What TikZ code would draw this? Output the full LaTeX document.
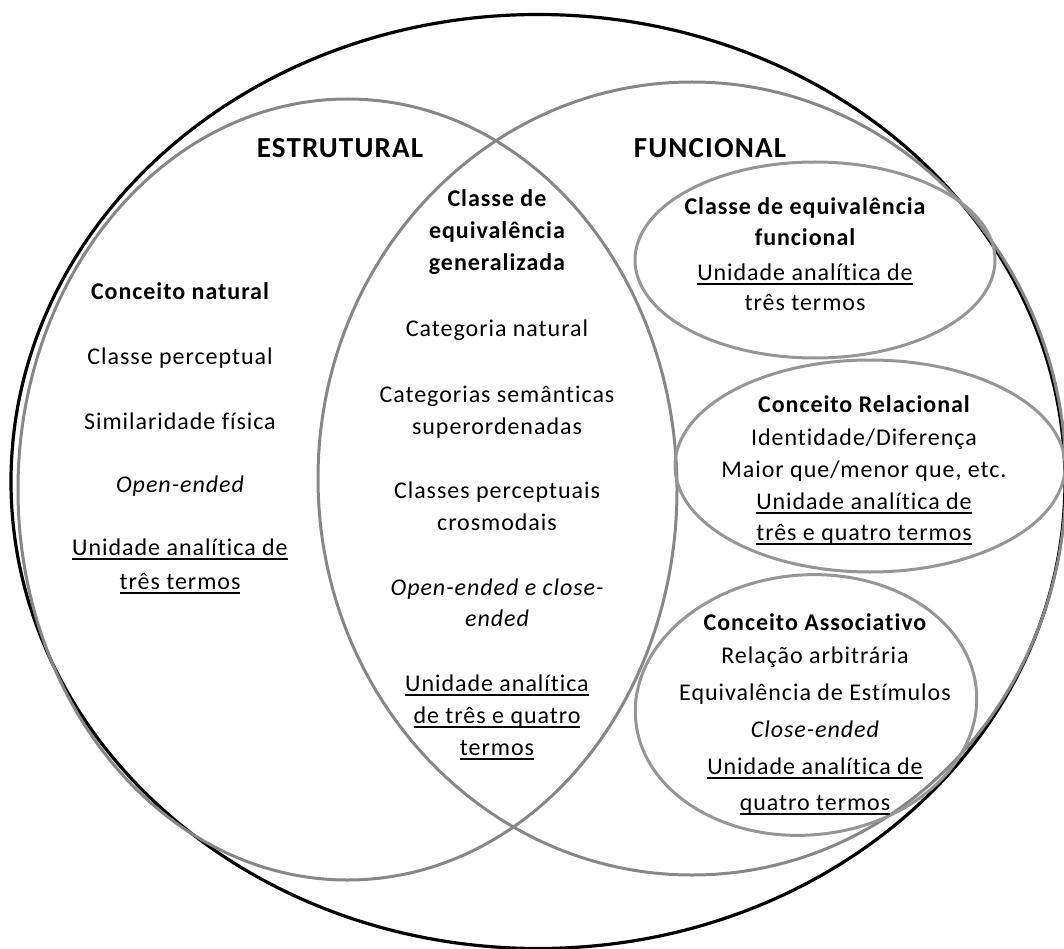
\documentclass[tikz,border=0pt]{standalone}
\usepackage{fontspec}
\setmainfont{Carlito}[LetterSpace=4,Ligatures=NoCommon]
\usetikzlibrary{shapes.geometric}
\definecolor{bigring}{RGB}{135,135,135}
\definecolor{smallring}{RGB}{150,150,150}
\newcommand{\myul}[1]{\setbox0\hbox{#1}\rlap{\rule[-4.5pt]{\wd0}{1.5pt}}\box0}
\begin{document}
\begin{tikzpicture}[x=1pt,y=-1pt,
  ring/.style={ellipse, draw, inner sep=0pt, outer sep=0pt},
  bigr/.style={ring, draw=bigring, line width=3pt},
  smallr/.style={ring, draw=smallring, line width=3pt},
  txt/.style={anchor=base, inner sep=0pt, font=\fontsize{24}{28}\selectfont},
  txtb/.style={txt, font=\fontsize{24}{28}\selectfont\bfseries},
  txti/.style={txt, font=\fontsize{24}{28}\selectfont\itshape},
  title/.style={anchor=base, inner sep=0pt, font=\fontsize{29}{33}\selectfont\bfseries}]
\useasboundingbox (0,0) rectangle (1064,949);
\clip (0,0) rectangle (1064,949);
% rings
\node[ring, draw=black, line width=3.2pt, minimum width=1054pt, minimum height=934pt] (outer) at (538,481.5) {};
\node[bigr, minimum width=659pt, minimum height=781pt] (estr) at (347.5,489.5) {};
\node[bigr, minimum width=748pt, minimum height=793pt] (func) at (692,478.5) {};
\node[smallr, minimum width=360pt, minimum height=196pt] (cef) at (815,260) {};
\node[smallr, minimum width=390pt, minimum height=212pt] (crel) at (870,466) {};
\node[smallr, minimum width=342pt, minimum height=260pt, rotate=5] (cass) at (806,705) {};
% titles
\node[title] (tE) at (340,158) {ESTRUTURAL};
\node[title] (tF) at (710,158) {FUNCIONAL};
% left column
\node[txtb] (l1) at (180,299) {Conceito natural};
\node[txt]  (l2) at (180,364) {Classe perceptual};
\node[txt]  (l3) at (180,429) {Similaridade física};
\node[txti] (l4) at (180,492) {Open-ended};
\node[txt]  (l5) at (180,555) {\myul{Unidade analítica de}};
\node[txt]  (l6) at (180,589) {\myul{três termos}};
% middle column
\node[txtb] (m1) at (497,207) {Classe de};
\node[txtb] (m2) at (497,239) {equivalência};
\node[txtb] (m3) at (497,271) {generalizada};
\node[txt]  (m4) at (497,336) {Categoria natural};
\node[txt]  (m5) at (497,402) {Categorias semânticas};
\node[txt]  (m6) at (497,434) {superordenadas};
\node[txt]  (m7) at (497,498) {Classes perceptuais};
\node[txt]  (m8) at (497,530) {crosmodais};
\node[txti] (m9) at (497,595) {Open-ended e close-};
\node[txti] (m10) at (497,626) {ended};
\node[txt]  (m11) at (497,691) {\myul{Unidade analítica}};
\node[txt]  (m12) at (497,723) {\myul{de três e quatro}};
\node[txt]  (m13) at (497,755) {\myul{termos}};
% right top
\node[txtb] (a1) at (805,215) {Classe de equivalência};
\node[txtb] (a2) at (805,246) {funcional};
\node[txt]  (a3) at (805,280) {\myul{Unidade analítica de}};
\node[txt]  (a4) at (805,310) {três termos};
% right middle
\node[txtb] (r1) at (864,412) {Conceito Relacional};
\node[txt]  (r2) at (864,445) {Identidade/Diferença};
\node[txt]  (r3) at (864,477) {Maior que/menor que, etc.};
\node[txt]  (r4) at (864,509) {\myul{Unidade analítica de}};
\node[txt]  (r5) at (864,540) {\myul{três e quatro termos}};
% right bottom
\node[txtb] (s1) at (815,630) {Conceito Associativo};
\node[txt]  (s2) at (815,663) {Relação arbitrária};
\node[txt]  (s3) at (815,700) {Equivalência de Estímulos};
\node[txti] (s4) at (815,737) {Close-ended};
\node[txt]  (s5) at (815,774) {\myul{Unidade analítica de}};
\node[txt]  (s6) at (815,810) {\myul{quatro termos}};
\end{tikzpicture}
\end{document}
